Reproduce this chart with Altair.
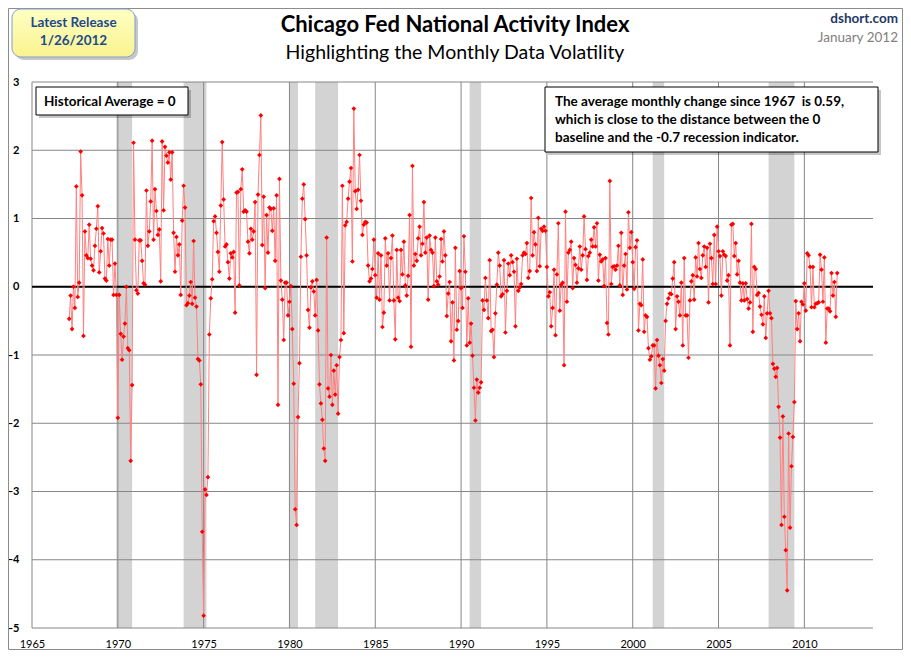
import altair as alt
import pandas as pd

FONT = "Lato"

# ---------------- data (monthly CFNAI) ----------------
start_year, start_month = 1967, 3

# Mar 1967 - Dec 1970
part1 = [-0.47, -0.13, -0.62, 0.00, -0.31, 1.47, -0.15, 0.06, 1.98, 1.34,
         -0.72, 0.81, 0.46, 0.42, 0.91, 0.41, 0.31, 0.24, 0.60, 0.85, 1.18, 0.21,
         0.52, 0.86, 0.78, 0.12, 0.09, 0.70, 0.31, 0.69, 0.69, -0.12, 0.34, -0.12,
         -1.92, -0.12, -0.69, -1.07, -0.73, -0.54, 0.00, -0.90, -0.93, -2.55, -1.44, 2.11]
# Jan 1971 - Sep 1976
part2 = [0.69, -0.05, -0.10, 0.68, 0.68, 0.38, 0.05, 0.03, 1.41, 0.60, 0.81, 1.25,
         2.14, 0.69, 1.43, 1.11, 0.76, 0.84, 0.08, 2.13, 1.12, 2.05, 1.92, 1.82,
         1.97, 1.57, 1.97, 0.79, 0.22, 0.73, 0.46, 0.62, -0.12, 0.97, 1.48, 1.16,
         -0.27, -0.24, -0.13, 0.07, -0.25, 0.67, -0.16, -0.29, -1.06, -1.08, -1.43, -3.59,
         -4.82, -2.97, -3.05, -2.79, -0.70, -0.17, 0.11, 0.96, 1.03, 0.79, 0.51, 0.22,
         1.19, 2.12, 1.28, 0.59, 0.62, 0.36, 0.12, 0.49, 0.43]
part3 = [0.51, -0.38, 1.38, 1.39, 0.02, 1.43, 1.72, 1.10, 1.12, 1.10,
         0.66, 0.49, 0.85, 0.69, 0.81, 1.24, -1.29, 1.35, 1.93, 2.51,
         0.61, 1.32, -0.02, 1.05, 0.50, 1.16, 1.14, 0.82, 1.15, 0.38,
         1.34, -1.73, 1.58, 0.09, -0.19, -0.78, 0.06, 0.06, -0.42, -0.22,
         0.01, -0.62, -1.42, -3.26, -3.49, -1.91, -1.12, 0.44, 1.29, 1.50,
         0.99, 0.46, -0.34, -0.60, -0.01, 0.08, -0.07, -0.42, 0.10, -0.64,
         -1.43, -1.71, -1.95, -2.37, -2.55, 0.72]
part4 = [-1.49, -1.61, -1.00, -1.73, -1.23, -1.58, -1.15, -1.86, -1.03, -0.78,
         1.48, -0.68, 0.90, 0.95, 1.29, 1.54, 1.74, 0.37, 2.61, 1.40,
         1.14, 1.42, 1.93, 1.26, 0.76, 0.91, 0.95, 0.94, 0.31, 0.08,
         0.12, 0.26, 0.69, 0.17, -0.16, 0.49, -0.19, 0.46, -0.59, -0.38,
         0.71, 0.31, 0.49, -0.20, 0.42, 0.75, -0.20, -0.77, 0.54, -0.16,
         -0.21, 0.54, 0.18, 0.66, 0.02, -0.13, 0.16, 1.05, -0.88, 1.77,
         0.31, 0.48, 0.38, 0.71, 0.88, 0.46]
part5 = [0.63, 1.24, 0.50, 0.72, -0.19, 0.75, 0.54, 0.50, 0.01, 0.72,
         0.08, 0.03, 0.15, 0.70, 0.37, 0.81, 0.46, -0.43, -0.10, 0.07,
         -0.80, -0.23, -1.08, 0.57, -0.63, -0.50, 0.23, -0.02, -0.31, 0.74,
         0.22, -0.86, -0.17, -0.82, -0.54, -1.01, -1.48, -1.96, -1.36, -1.55,
         -1.48, -1.40, -0.20, -0.34, 0.13, -0.20, -0.46, 0.39, -0.65, -0.63,
         -1.03, -0.39, 0.03, 0.50, 0.31, -0.14, -0.11, 0.39, -0.67, -0.06,
         0.34, 0.17, 0.46, 0.36, 0.22, -0.58]
part6 = [0.41, -0.06, -0.01, 0.04, 0.46, 0.50, 0.48, 0.64, 0.13, 0.23,
         1.30, 0.46, 0.80, 0.62, 0.23, 1.01, 0.30, 0.85, 0.82, 0.88,
         0.82, 0.29, -0.14, -0.08, -0.58, -0.31, 0.25, -0.71, 0.18, 0.93,
         -0.35, 0.03, 0.06, -1.15, 1.10, -0.22, 0.50, 0.54, 0.66, -0.02,
         0.42, 0.32, 0.06, 0.27, 0.59, 0.25, 0.46, 1.03, 0.55, 0.10,
         0.45, 0.50, 0.69, 0.59, 0.87, 0.59, 0.93, 0.09, 0.47, 0.37,
         0.40, 0.01, 0.42, -0.53, -0.70, 1.55]
part7 = [0.04, 0.29, 0.30, 0.25, 0.31, 0.60, 0.02, 0.79, -0.12, 0.31,
         0.48, -0.04, 1.09, 0.57, 0.80, 0.36, -0.03, 0.58, 0.68, -0.64,
         -0.25, -0.27, 0.40, -0.66, -0.42, -0.44, -0.90, -1.07, -1.02, -0.86,
         -0.86, -1.49, -0.78, -1.01, -1.15, -1.41, -1.06, -1.23, -0.50, -0.25,
         -0.17, -0.10, -0.11, 0.12, 0.36, -0.62, -0.14, -0.22, -0.42, 0.06,
         -0.86, 0.42, -0.42, -0.42, -1.04, -0.20, 0.08, 0.17, -0.19, 0.43,
         0.15, 0.64, 0.26, 0.13, 0.46, 0.59, 0.29]
part8 = [0.57, -0.23, 0.63, 0.42, 0.04, 0.76, 0.04, 0.88, 0.52, 0.45,
         -0.13, 0.52, 0.47, 0.45, 0.09, 0.17, -0.86, 0.91, 0.92, 0.45,
         0.64, 0.18, 0.38, 0.06, -0.20, 0.05, -0.20, 0.05, -0.18, -0.32,
         -0.23, 0.92, -0.66, 0.29, 0.26, -0.12, -0.09, -0.29, -0.41, -0.55,
         -0.14, -0.75, -0.39, -0.06, -0.39, -0.46, -1.13, -1.20, -1.32, -1.19,
         -1.76, -2.21, -3.49, -1.90, -3.37, -3.86, -4.45, -2.15, -3.53, -2.63,
         -2.20, -1.69, -0.21, -0.62, -0.39, -0.80]
# ... - Dec 2011
part9 = [-0.22, -0.26, 0.05, -0.35, 0.49, 0.46, 0.29, -0.30, 0.29, -0.30,
         -0.25, -0.24, -0.23, 0.47, 0.25, -0.22, 0.43, -0.82, -0.32, -0.32,
         -0.36, 0.20, -0.13, 0.07, -0.44, 0.20]

recession_starts = ["1969-12", "1973-11", "1980-01", "1981-07", "1990-07", "2001-03", "2007-12"]
recession_ends = ["1970-11", "1975-03", "1980-07", "1982-11", "1991-03", "2001-11", "2009-06"]

year_ticks = [1965, 1970, 1975, 1980, 1985, 1990, 1995, 2000, 2005, 2010]
value_ticks = [-5, -4, -3, -2, -1, 0, 1, 2, 3]
baseline_value = [0]

title_text = "Chicago Fed National Activity Index"
subtitle_text = "Highlighting the Monthly Data Volatility"
release_lines = ["Latest Release", "1/26/2012"]
source_text = "dshort.com"
date_text = "January 2012"
avg_text = "Historical Average = 0"
note_lines = ["The average monthly change since 1967\u00a0 is 0.59,",
              "which is close to the distance between the 0",
              "baseline and the -0.7 recession indicator."]

# ---------------- build tables ----------------
values = part1 + part2 + part3 + part4 + part5 + part6 + part7 + part8 + part9
times = [start_year + (start_month - 1 + i) / 12 for i in range(len(values))]
df = pd.DataFrame({"t": times, "v": values})


def dec(ym):
    y, m = ym.split("-")
    return int(y) + (int(m) - 1) / 12


rec_df = pd.DataFrame({"start": [dec(s) for s in recession_starts],
                       "end": [dec(e) for e in recession_ends]})
xgrid_df = pd.DataFrame({"t": year_ticks})
ygrid_df = pd.DataFrame({"v": value_ticks})
zero_df = pd.DataFrame({"v": baseline_value})
one = pd.DataFrame({"k": [0]})

W, H = 841, 546
GRID = "#868686"

xs = alt.Scale(domain=[1965, 2014], nice=False, zero=False)
ys = alt.Scale(domain=[-5, 3], nice=False, zero=False)
xaxis = alt.Axis(values=year_ticks, format="d", title=None, grid=False, ticks=False,
                 domain=False, labelFlush=False, labelPadding=10, labelFontSize=11,
                 labelColor="#000000", labelFont=FONT)
yaxis = alt.Axis(values=value_ticks, format="d", title=None, grid=False, ticks=False,
                 domain=False, labelPadding=13, labelFontSize=11, labelFontWeight="bold",
                 labelColor="#000000", labelFont=FONT)

bands = alt.Chart(rec_df).mark_rect(color="#d3d3d3").encode(
    x=alt.X("start:Q", scale=xs, axis=xaxis), x2="end:Q",
    y=alt.value(0), y2=alt.value(H))

vgrid = alt.Chart(xgrid_df).mark_rule(color=GRID, strokeWidth=1).encode(
    x=alt.X("t:Q", scale=xs, axis=xaxis))
hgrid = alt.Chart(ygrid_df).mark_rule(color=GRID, strokeWidth=1).encode(
    y=alt.Y("v:Q", scale=ys, axis=yaxis))
zero = alt.Chart(zero_df).mark_rule(color="#000000", strokeWidth=2).encode(
    y=alt.Y("v:Q", scale=ys, axis=yaxis))

line = alt.Chart(df).mark_line(color="#ff8080", strokeWidth=1).encode(
    x=alt.X("t:Q", scale=xs, axis=xaxis), y=alt.Y("v:Q", scale=ys, axis=yaxis))
pts = alt.Chart(df).mark_point(shape="diamond", filled=True, size=22, color="#ff0000",
                               opacity=1).encode(
    x=alt.X("t:Q", scale=xs, axis=xaxis), y=alt.Y("v:Q", scale=ys, axis=yaxis))


def rect(x1, y1, x2, y2, **kw):
    return alt.Chart(one).mark_rect(**kw).encode(
        x=alt.value(x1), x2=alt.value(x2), y=alt.value(y1), y2=alt.value(y2))


def text(t, x, y, size, weight="normal", color="#000000", align="left"):
    return alt.Chart(one).mark_text(fontSize=size, fontWeight=weight, color=color,
                                    align=align, baseline="middle", font=FONT).encode(
        x=alt.value(x), y=alt.value(y), text=alt.value(t))


def box(x1, y1, x2, y2, fill, stroke, radius=0):
    return [rect(x1 + 3, y1 + 3, x2 + 3, y2 + 3, color="#000000", opacity=0.22,
                 cornerRadius=radius),
            rect(x1, y1, x2, y2, fill=fill, stroke=stroke, strokeWidth=1,
                 cornerRadius=radius)]


yellow = alt.Gradient(gradient="linear", x1=0, y1=0, x2=0, y2=1,
                      stops=[alt.GradientStop(color="#ffffc4", offset=0),
                             alt.GradientStop(color="#f9f38e", offset=1)])

frame = rect(-23.5, -73.5, 870.5, 567.5, filled=False, color="#8c8c8c", strokeWidth=1)

layers = [frame, bands, vgrid, hgrid, zero, line, pts]
layers += box(4, 5, 156, 33, "#ffffff", "#000000")
layers += [text(avg_text, 12, 19.5, 13.5, "bold")]
layers += box(513, 5, 846, 70, "#ffffff", "#000000")
layers += [text(note_lines[0], 523, 20, 13.5, "bold"),
           text(note_lines[1], 523, 38, 13.5, "bold"),
           text(note_lines[2], 523, 55.5, 13.5, "bold")]
layers += box(-20, -73, 103, -25, yellow, "#7f9fd2", radius=9)
layers += [text(release_lines[0], 41.5, -59, 13.5, "bold", "#1f4a8c", "center"),
           text(release_lines[1], 41.5, -41, 13.5, "bold", "#1f4a8c", "center")]
layers += [text(title_text, 423, -57, 22, "bold", "#000000", "center"),
           text(subtitle_text, 423, -29, 19.5, "normal", "#000000", "center"),
           text(source_text, 866, -63, 13.5, "bold", "#1f3864", "right"),
           text(date_text, 866, -44, 13.5, "normal", "#808080", "right")]

chart = alt.layer(*layers).properties(
    width=W, height=H,
    autosize=alt.AutoSizeParams(type="none"),
    padding={"left": 24, "top": 74, "right": 30, "bottom": 22},
    background="#ffffff",
).configure_view(stroke=None)

chart.save("out.html", embed_options={"renderer": "svg", "actions": False})
